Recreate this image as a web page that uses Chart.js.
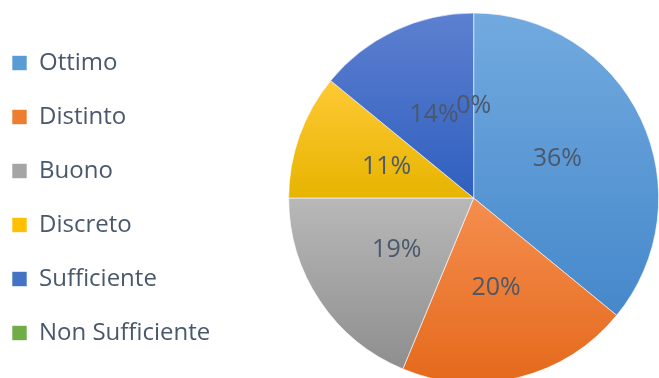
<!DOCTYPE html>
<html>
<head>
<meta charset="utf-8">
<script src="https://cdn.jsdelivr.net/npm/chart.js@4"></script>
<style>
  html, body { margin: 0; padding: 0; background: #ffffff; overflow: hidden; }
  body { width: 659px; height: 378px; }
  #wrap { width: 727px; height: 383px; }
</style>
</head>
<body>
<div id="wrap"><canvas id="chart"></canvas></div>
<script>
// Dati
const categories = ['Ottimo', 'Distinto', 'Buono', 'Discreto', 'Sufficiente', 'Non Sufficiente'];
const counts = [23, 13, 12, 7, 9, 0];

// Colori (base per la legenda, gradiente chiaro/scuro per le fette)
const baseColors = ['#5b9bd5', '#ed7d31', '#a5a5a5', '#ffc000', '#4472c4', '#70ad47'];
const topColors = ['#72aadf', '#f58e4f', '#b8b8b8', '#ffc935', '#5d80d0', '#80bd58'];
const bottomColors = ['#4588cb', '#e4691b', '#8e8e8e', '#e6b400', '#2f5fbf', '#5f9c3a'];
const textColor = '#4a586c';

// Gradiente verticale per ogni fetta
const sliceGradient = {
  id: 'sliceGradient',
  beforeDatasetsDraw(chart) {
    const ctx = chart.ctx;
    chart.getDatasetMeta(0).data.forEach((arc, i) => {
      let minY = arc.y, maxY = arc.y;
      for (let k = 0; k <= 40; k++) {
        const a = arc.startAngle + (arc.endAngle - arc.startAngle) * k / 40;
        const y = arc.y + Math.sin(a) * arc.outerRadius;
        minY = Math.min(minY, y);
        maxY = Math.max(maxY, y);
      }
      if (maxY - minY < 1) maxY = minY + 1;
      const g = ctx.createLinearGradient(0, minY, 0, maxY);
      g.addColorStop(0, topColors[i]);
      g.addColorStop(1, bottomColors[i]);
      arc.options = Object.assign({}, arc.options, { backgroundColor: g });
    });
  }
};

// Etichette percentuali al centro delle fette
const percentLabels = {
  id: 'percentLabels',
  afterDatasetsDraw(chart) {
    const ctx = chart.ctx;
    const total = counts.reduce((a, b) => a + b, 0);
    ctx.save();
    ctx.font = '25px "Open Sans"';
    ctx.fillStyle = textColor;
    ctx.textAlign = 'center';
    ctx.textBaseline = 'middle';
    chart.getDatasetMeta(0).data.forEach((arc, i) => {
      const p = arc.getCenterPoint();
      ctx.fillText(Math.round(counts[i] / total * 100) + '%', p.x, p.y);
    });
    ctx.restore();
  }
};

new Chart(document.getElementById('chart'), {
  type: 'pie',
  data: {
    labels: categories,
    datasets: [{
      data: counts,
      backgroundColor: baseColors,
      borderColor: 'rgba(255,255,255,0.6)',
      borderWidth: 1
    }]
  },
  options: {
    responsive: true,
    maintainAspectRatio: false,
    animation: false,
    radius: 185,
    layout: { padding: { left: -18, right: 0, top: 13, bottom: 0 } },
    plugins: {
      legend: {
        position: 'left',
        labels: {
          boxWidth: 15,
          boxHeight: 15,
          padding: 30,
          color: textColor,
          font: { family: 'Open Sans', size: 24 }
        }
      },
      tooltip: { enabled: false }
    }
  },
  plugins: [sliceGradient, percentLabels]
});
</script>
</body>
</html>
